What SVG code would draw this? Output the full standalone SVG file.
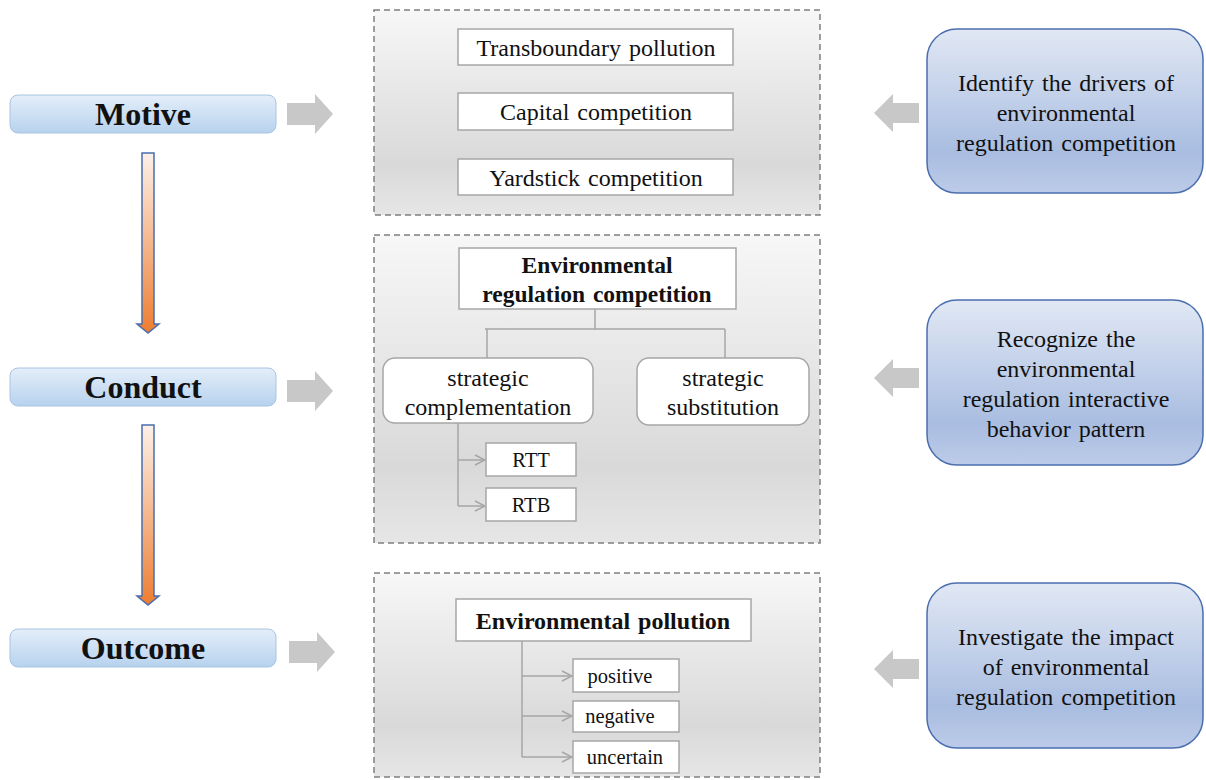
<svg xmlns="http://www.w3.org/2000/svg" width="1206" height="780" viewBox="0 0 1206 780">
<defs>
<linearGradient id="gBox" x1="0" y1="0" x2="0" y2="1"><stop offset="0" stop-color="#f7f7f7"/><stop offset="0.75" stop-color="#d9d9d9"/><stop offset="1" stop-color="#e6e6e6"/></linearGradient>
<linearGradient id="gLbl" x1="0" y1="0" x2="0" y2="1"><stop offset="0" stop-color="#e4eef9"/><stop offset="1" stop-color="#b7d2ee"/></linearGradient>
<linearGradient id="gRight" x1="0" y1="0" x2="0" y2="1"><stop offset="0" stop-color="#e1e8f4"/><stop offset="0.75" stop-color="#a9bde1"/><stop offset="1" stop-color="#bccbe8"/></linearGradient>
<linearGradient id="gOrange" x1="0" y1="0" x2="0" y2="1"><stop offset="0" stop-color="#fdf0e8"/><stop offset="1" stop-color="#ed7d31"/></linearGradient>
<marker id="ah" markerWidth="12" markerHeight="12" refX="11" refY="6" orient="auto" markerUnits="userSpaceOnUse"><path d="M1,1 L11,6 L1,11" fill="none" stroke="#a6a6a6" stroke-width="1.5"/></marker>
</defs>
<style>
.t{font-family:"Liberation Serif","Times New Roman","DejaVu Serif",serif;fill:#111;text-anchor:middle}
.b{font-weight:bold}
.dash{fill:url(#gBox);stroke:#7f7f7f;stroke-width:1.5;stroke-dasharray:6 4}
.wbox{fill:#fff;stroke:#a6a6a6;stroke-width:1.5}
.lbl{fill:url(#gLbl);stroke:#a8c4e2;stroke-width:1}
.rbox{fill:url(#gRight);stroke:#4a6eae;stroke-width:1.5}
.garrow{fill:#c8c8c8}
.oarrow{fill:url(#gOrange);stroke:#4a6eae;stroke-width:1.5}
.ln{fill:none;stroke:#a6a6a6;stroke-width:1.5}
</style>
<rect width="1206" height="780" fill="#fff"/>

<g id="frame-motive"><rect class="dash" x="374" y="10" width="446" height="205"/></g>
<g id="frame-conduct"><rect class="dash" x="374" y="235" width="446" height="308"/></g>
<g id="frame-outcome"><rect class="dash" x="374" y="573" width="446" height="204"/></g>

<g id="label-motive"><rect class="lbl" x="10" y="95" width="266" height="38" rx="8"/><text class="t b" x="143" y="125" font-size="32">Motive</text></g>
<g id="label-conduct"><rect class="lbl" x="10" y="368" width="266" height="38" rx="8"/><text class="t b" x="143" y="398" font-size="32">Conduct</text></g>
<g id="label-outcome"><rect class="lbl" x="10" y="629" width="266" height="38" rx="8"/><text class="t b" x="143" y="659" font-size="32">Outcome</text></g>

<g id="connectors">
<path class="garrow" d="M287,103 H315 V94 L333,114 L315,134 V125 H287 Z"/>
<path class="garrow" d="M287,380 H315 V371 L333,391 L315,411 V402 H287 Z"/>
<path class="garrow" d="M289,641 H317 V632 L335,652 L317,672 V663 H289 Z"/>
<path class="garrow" d="M919,103 H893 V94 L874,113 L893,132 V123 H919 Z"/>
<path class="garrow" d="M919,368 H893 V359 L874,378 L893,397 V388 H919 Z"/>
<path class="garrow" d="M919,659 H893 V650 L874,669 L893,688 V679 H919 Z"/>
<path class="oarrow" d="M142,153 H154 V324 H159 L148,333 L137,324 H142 Z"/>
<path class="oarrow" d="M142,425 H154 V596 H159 L148,605 L137,596 H142 Z"/>
<path class="ln" d="M595,309 V329 M485,329 H725 M487,329 V358 M725,329 V358"/>
<path class="ln" d="M458,423 V506"/>
<path class="ln" d="M458,460 H485" marker-end="url(#ah)"/>
<path class="ln" d="M458,506 H485" marker-end="url(#ah)"/>
<path class="ln" d="M522,641 V757"/>
<path class="ln" d="M522,676 H572" marker-end="url(#ah)"/>
<path class="ln" d="M522,716 H572" marker-end="url(#ah)"/>
<path class="ln" d="M522,757 H572" marker-end="url(#ah)"/>
</g>

<g id="n-transboundary"><rect class="wbox" x="458" y="29" width="275" height="36"/><text class="t" x="596" y="56" font-size="24" word-spacing="2">Transboundary pollution</text></g>
<g id="n-capital"><rect class="wbox" x="458" y="93" width="275" height="37"/><text class="t" x="596" y="120" font-size="24" word-spacing="2">Capital competition</text></g>
<g id="n-yardstick"><rect class="wbox" x="458" y="159" width="275" height="36"/><text class="t" x="596" y="186" font-size="24" word-spacing="2">Yardstick competition</text></g>

<g id="n-erc"><rect class="wbox" x="459" y="248" width="277" height="61"/><text class="t b" x="597" y="273" font-size="23.5">Environmental</text><text class="t b" x="597" y="302" font-size="23.5" word-spacing="2">regulation competition</text></g>
<g id="n-complement"><rect class="wbox" x="383" y="358" width="210" height="65" rx="12"/><text class="t" x="488" y="386" font-size="24">strategic</text><text class="t" x="488" y="415" font-size="24">complementation</text></g>
<g id="n-substitution"><rect class="wbox" x="637" y="358" width="172" height="67" rx="12"/><text class="t" x="723" y="386" font-size="24">strategic</text><text class="t" x="723" y="415" font-size="24">substitution</text></g>
<g id="n-rtt"><rect class="wbox" x="486" y="443" width="90" height="33"/><text class="t" x="531" y="467" font-size="20.5">RTT</text></g>
<g id="n-rtb"><rect class="wbox" x="486" y="488" width="90" height="33"/><text class="t" x="531" y="512" font-size="20.5">RTB</text></g>

<g id="n-pollution"><rect class="wbox" x="456" y="599" width="295" height="42"/><text class="t b" x="603" y="629" font-size="24" word-spacing="2">Environmental pollution</text></g>
<g id="n-positive"><rect class="wbox" x="573" y="659" width="106" height="33"/><text class="t" x="620" y="683" font-size="20.5">positive</text></g>
<g id="n-negative"><rect class="wbox" x="573" y="701" width="106" height="31"/><text class="t" x="620" y="723" font-size="20.5">negative</text></g>
<g id="n-uncertain"><rect class="wbox" x="573" y="741" width="106" height="32"/><text class="t" x="625" y="764" font-size="20.5">uncertain</text></g>

<g id="r-identify"><rect class="rbox" x="927" y="29" width="276" height="164" rx="30"/><text class="t" x="1066" y="91" font-size="24" word-spacing="2">Identify the drivers of</text><text class="t" x="1066" y="121" font-size="24">environmental</text><text class="t" x="1066" y="151" font-size="24" word-spacing="2">regulation competition</text></g>
<g id="r-recognize"><rect class="rbox" x="927" y="300" width="276" height="165" rx="30"/><text class="t" x="1066" y="347" font-size="24" word-spacing="2">Recognize the</text><text class="t" x="1066" y="377" font-size="24">environmental</text><text class="t" x="1066" y="407" font-size="24" word-spacing="2">regulation interactive</text><text class="t" x="1066" y="437" font-size="24" word-spacing="2">behavior pattern</text></g>
<g id="r-investigate"><rect class="rbox" x="927" y="583" width="276" height="165" rx="30"/><text class="t" x="1066" y="645" font-size="24" word-spacing="2">Investigate the impact</text><text class="t" x="1066" y="675" font-size="24" word-spacing="2">of environmental</text><text class="t" x="1066" y="705" font-size="24" word-spacing="2">regulation competition</text></g>
</svg>
